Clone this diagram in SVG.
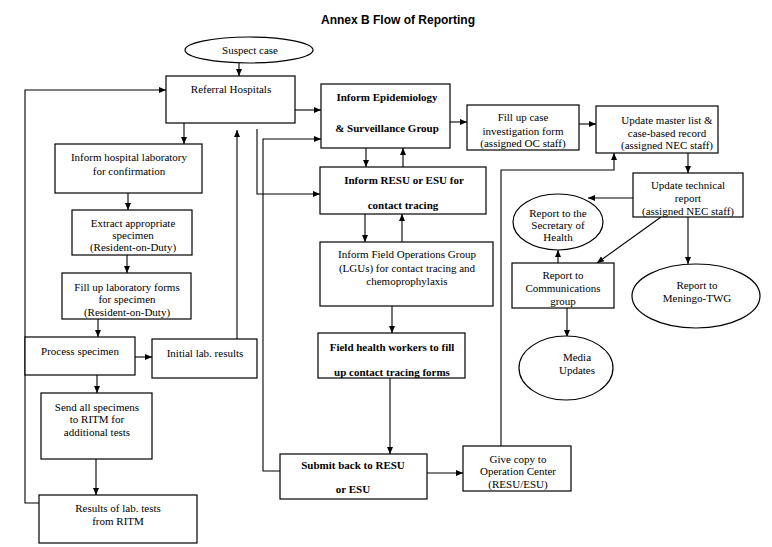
<svg xmlns="http://www.w3.org/2000/svg" width="772" height="547" viewBox="0 0 772 547">
<defs>
<marker id="ah" markerUnits="userSpaceOnUse" markerWidth="8" markerHeight="8" refX="7" refY="4" orient="auto">
<path d="M0,1 L7,4 L0,7 z" fill="#000"/>
</marker>
<style>
.b{fill:#fff;stroke:#000;stroke-width:1.2}
.t{font-family:"Liberation Serif","Times New Roman",serif;font-size:11px;fill:#000;text-anchor:middle}
.bd{font-weight:bold}
.c{fill:none;stroke:#000;stroke-width:1.1;marker-end:url(#ah)}
.title{font-family:"Liberation Sans",Arial,sans-serif;font-size:12px;font-weight:bold;text-anchor:middle;fill:#000}
</style>
</defs>
<rect width="772" height="547" fill="#fff"/>
<text class="title" x="398" y="24">Annex B Flow of Reporting</text>

<g id="connectors">
<path class="c" d="M239,63 V76"/>
<path class="c" d="M184,123 V144"/>
<path class="c" d="M128,193 V210"/>
<path class="c" d="M127,255 V273"/>
<path class="c" d="M98,319 V337"/>
<path class="c" d="M135,357 H152"/>
<path class="c" d="M237,339 V130"/>
<path class="c" d="M97,375 V393"/>
<path class="c" d="M96,459 V495"/>
<path class="c" d="M39,503 H25 V90 H166"/>
<path class="c" d="M295,110 H321"/>
<path class="c" d="M257,129 V194 H320"/>
<path class="c" d="M280,471 H263 V139 H321"/>
<path class="c" d="M366,148 V167"/>
<path class="c" d="M403,167 V148"/>
<path class="c" d="M365,214 V242"/>
<path class="c" d="M402,242 V214"/>
<path class="c" d="M392,306 V333"/>
<path class="c" d="M390,378 V454"/>
<path class="c" d="M427,473 H463"/>
<path class="c" d="M501,446 V170 H614 V153"/>
<path class="c" d="M450,122 H467"/>
<path class="c" d="M579,124 H596"/>
<path class="c" d="M688,153 V173"/>
<path class="c" d="M633,198 H588"/>
<path class="c" d="M661,217 L597,263"/>
<path class="c" d="M558,263 V250"/>
<path class="c" d="M688,217 V264"/>
<path class="c" d="M567,308 V337"/>
</g>

<g id="suspect"><ellipse class="b" cx="249" cy="50" rx="64" ry="13"/><text class="t" x="250" y="54">Suspect case</text></g>
<g id="referral"><rect class="b" x="166" y="76" width="129" height="47"/><text class="t" x="231" y="93">Referral Hospitals</text></g>
<g id="informlab"><rect class="b" x="55" y="144" width="147" height="49"/><text class="t" x="129" y="161">Inform hospital laboratory</text><text class="t" x="129" y="175">for confirmation</text></g>
<g id="extract"><rect class="b" x="72" y="210" width="120" height="45"/><text class="t" x="133" y="227">Extract appropriate</text><text class="t" x="133" y="239">specimen</text><text class="t" x="133" y="251">(Resident-on-Duty)</text></g>
<g id="filllab"><rect class="b" x="62" y="273" width="129" height="46"/><text class="t" x="127" y="291">Fill up laboratory forms</text><text class="t" x="127" y="303">for specimen</text><text class="t" x="127" y="316">(Resident-on-Duty)</text></g>
<g id="process"><rect class="b" x="25" y="337" width="110" height="38"/><text class="t" x="80" y="355">Process specimen</text></g>
<g id="initial"><rect class="b" x="152" y="339" width="105" height="39"/><text class="t" x="205" y="357">Initial lab. results</text></g>
<g id="send"><rect class="b" x="41" y="393" width="111" height="66"/><text class="t" x="97" y="411">Send all specimens</text><text class="t" x="97" y="423">to RITM for</text><text class="t" x="97" y="436">additional tests</text></g>
<g id="results"><rect class="b" x="39" y="495" width="158" height="48"/><text class="t" x="118" y="512">Results of lab. tests</text><text class="t" x="118" y="525">from RITM</text></g>

<g id="epi"><rect class="b" x="321" y="84" width="129" height="64"/><text class="t bd" x="387" y="101">Inform Epidemiology</text><text class="t bd" x="387" y="132">&amp; Surveillance Group</text></g>
<g id="resu"><rect class="b" x="320" y="167" width="166" height="47"/><text class="t bd" x="404" y="184">Inform RESU or ESU for</text><text class="t bd" x="403" y="209">contact tracing</text></g>
<g id="fieldops"><rect class="b" x="320" y="242" width="173" height="64"/><text class="t" x="407" y="258">Inform Field Operations Group</text><text class="t" x="407" y="272">(LGUs) for contact tracing and</text><text class="t" x="407" y="285">chemoprophylaxis</text></g>
<g id="fieldhealth"><rect class="b" x="318" y="333" width="147" height="45"/><text class="t bd" x="392" y="351">Field health workers to fill</text><text class="t bd" x="392" y="376">up contact tracing forms</text></g>
<g id="submit"><rect class="b" x="280" y="454" width="147" height="45"/><text class="t bd" x="353" y="469">Submit back to RESU</text><text class="t bd" x="353" y="493">or ESU</text></g>
<g id="givecopy"><rect class="b" x="463" y="446" width="108" height="45"/><text class="t" x="518" y="463">Give copy to</text><text class="t" x="518" y="475">Operation Center</text><text class="t" x="518" y="488">(RESU/ESU)</text></g>

<g id="fillcase"><rect class="b" x="467" y="105" width="112" height="45"/><text class="t" x="523" y="121">Fill up case</text><text class="t" x="523" y="135">investigation form</text><text class="t" x="523" y="147">(assigned OC staff)</text></g>
<g id="master"><rect class="b" x="596" y="106" width="122" height="47"/><text class="t" x="667" y="124">Update master list &amp;</text><text class="t" x="667" y="137">case-based record</text><text class="t" x="667" y="149">(assigned NEC staff)</text></g>
<g id="technical"><rect class="b" x="633" y="173" width="110" height="44"/><text class="t" x="688" y="189">Update technical</text><text class="t" x="688" y="202">report</text><text class="t" x="688" y="215">(assigned NEC staff)</text></g>
<g id="secretary"><ellipse class="b" cx="558" cy="222" rx="45" ry="28"/><text class="t" x="558" y="217">Report to the</text><text class="t" x="558" y="229">Secretary of</text><text class="t" x="558" y="241">Health</text></g>
<g id="comms"><rect class="b" x="512" y="263" width="102" height="45"/><text class="t" x="563" y="279">Report to</text><text class="t" x="563" y="292">Communications</text><text class="t" x="563" y="305">group</text></g>
<g id="meningo"><ellipse class="b" cx="696" cy="296" rx="64" ry="32"/><text class="t" x="697" y="289">Report to</text><text class="t" x="697" y="302">Meningo-TWG</text></g>
<g id="media"><ellipse class="b" cx="566" cy="368" rx="47" ry="32"/><text class="t" x="577" y="361">Media</text><text class="t" x="577" y="374">Updates</text></g>
</svg>
